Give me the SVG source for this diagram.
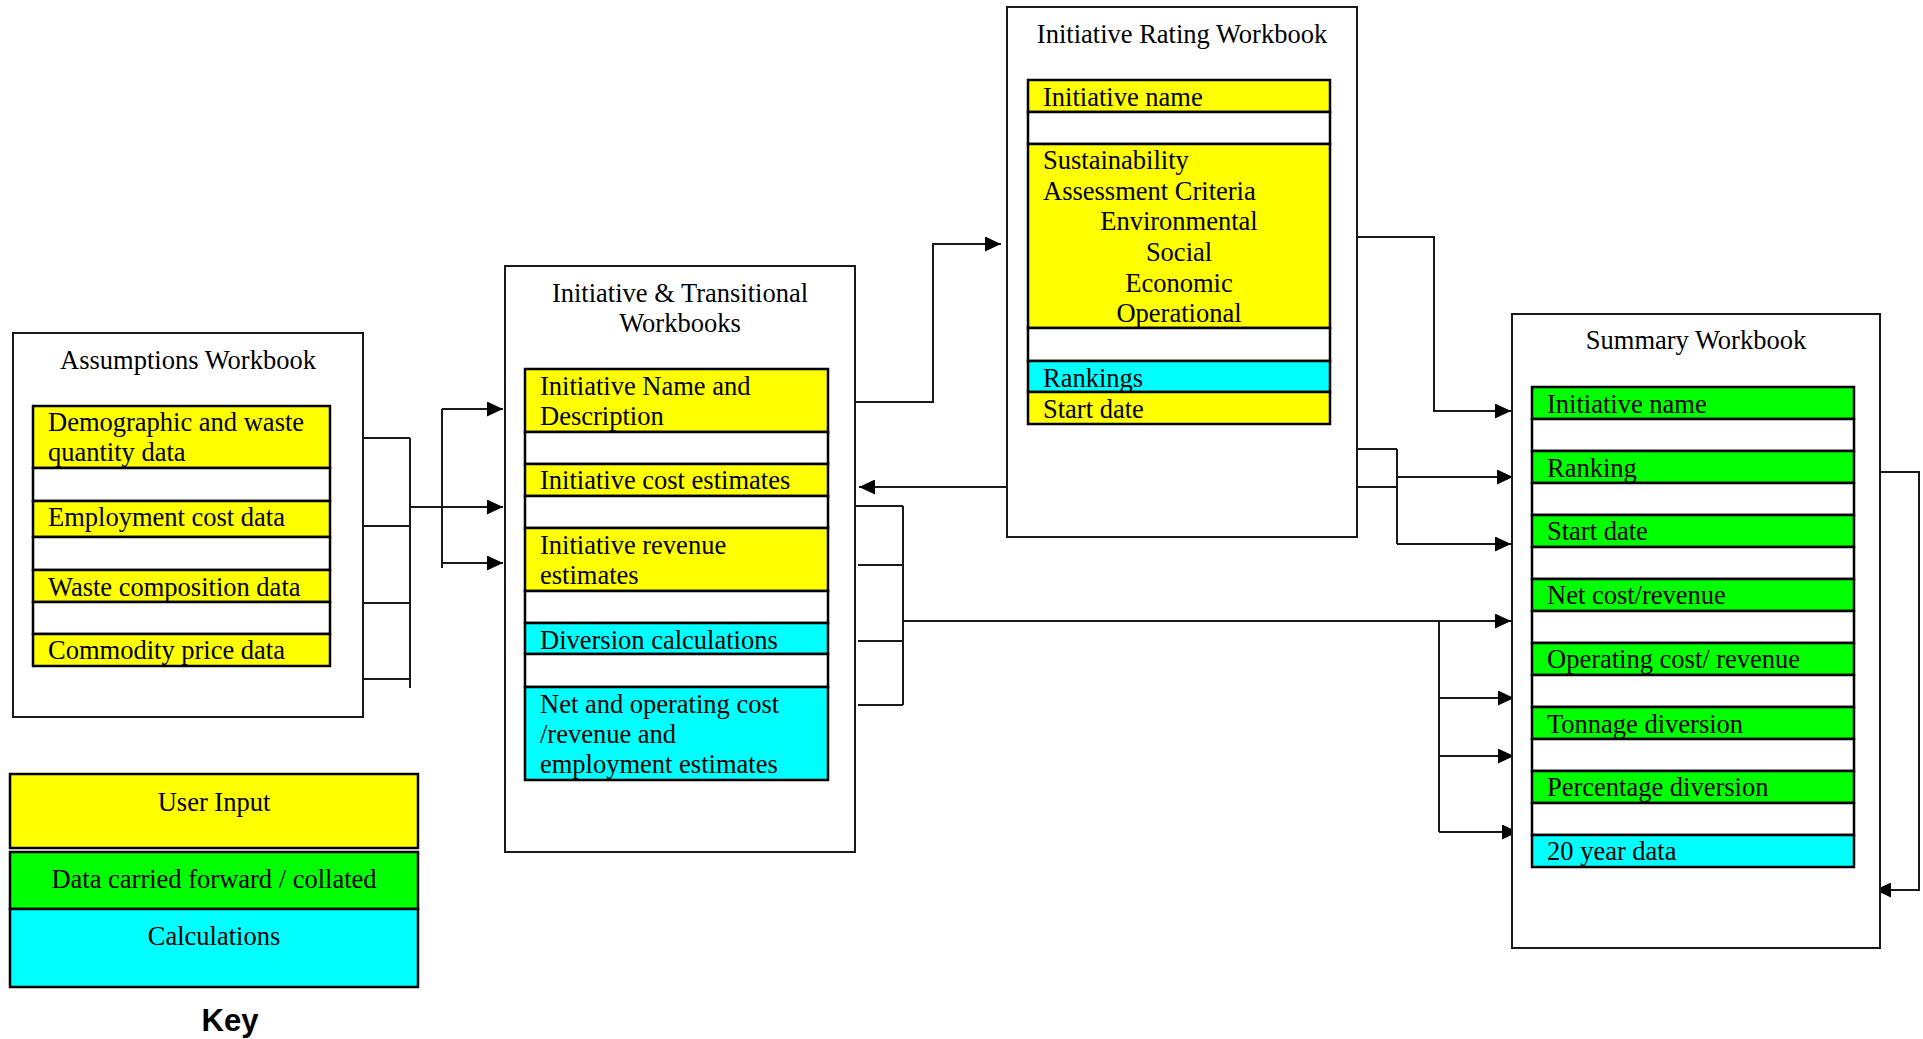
<svg xmlns="http://www.w3.org/2000/svg" width="1923" height="1039" viewBox="0 0 1923 1039">
<style>
.box{fill:#fff;stroke:#1a1a1a;stroke-width:2}
.y{fill:#ffff00;stroke:#000;stroke-width:2.5}
.g{fill:#00ff00;stroke:#000;stroke-width:2.5}
.c{fill:#00ffff;stroke:#000;stroke-width:2.5}
.w{fill:#fff;stroke:#000;stroke-width:2.5}
text{font-family:"Liberation Serif","Times New Roman",serif;font-size:26.5px;fill:#000}
.m{text-anchor:middle}
.key{font-family:"Liberation Sans",Arial,sans-serif;font-weight:bold;font-size:31px}
.ln{fill:none;stroke:#1a1a1a;stroke-width:2}
.ar{fill:none;stroke:#1a1a1a;stroke-width:2;marker-end:url(#ah)}
</style>
<defs>
<marker id="ah" markerUnits="userSpaceOnUse" markerWidth="16" markerHeight="15" refX="16" refY="7.5" orient="auto">
<path d="M0,0 L16,7.5 L0,15 z" fill="#000"/>
</marker>
</defs>
<rect width="1923" height="1039" fill="#fff"/>

<g id="connectors">
<path class="ln" d="M363,438 H410 M363,526 H410 M363,603 H410 M363,679 H410 M410,438 V688 M442,409 V568"/>
<path class="ar" d="M410,507 H503"/>
<path class="ar" d="M442,409 H503"/>
<path class="ar" d="M442,563 H503"/>
<path class="ar" d="M855,402 H933 V244 H1001"/>
<path class="ar" d="M1023,487 H859"/>
<path class="ln" d="M855,506 H903 M858,565 H903 M858,641 H903 M858,705 H903 M903,506 V705 M1439,621 V832"/>
<path class="ar" d="M903,621 H1511"/>
<path class="ar" d="M1439,698 H1514"/>
<path class="ar" d="M1439,756 H1514"/>
<path class="ar" d="M1439,832 H1518"/>
<path class="ar" d="M1357,237 H1434 V411 H1511"/>
<path class="ln" d="M1357,449 H1397 M1357,487 H1397 M1397,449 V544"/>
<path class="ar" d="M1397,477 H1513"/>
<path class="ar" d="M1397,544 H1511"/>
<path class="ar" d="M1880,472 H1919 V890 H1875"/>
</g>

<g id="assumptions">
<rect class="box" x="13" y="333" width="350" height="384"/>
<text class="m" x="188" y="369">Assumptions Workbook</text>
<rect class="y" x="33" y="406" width="297" height="62"/>
<rect class="w" x="33" y="468" width="297" height="33"/>
<rect class="y" x="33" y="501" width="297" height="36"/>
<rect class="w" x="33" y="537" width="297" height="33"/>
<rect class="y" x="33" y="570" width="297" height="32"/>
<rect class="w" x="33" y="602" width="297" height="32"/>
<rect class="y" x="33" y="634" width="297" height="32"/>
<text x="48" y="431">Demographic and waste</text>
<text x="48" y="461">quantity data</text>
<text x="48" y="526">Employment cost data</text>
<text x="48" y="596">Waste composition data</text>
<text x="48" y="659">Commodity price data</text>
</g>

<g id="initiative">
<rect class="box" x="505" y="266" width="350" height="586"/>
<text class="m" x="680" y="302">Initiative &amp; Transitional</text>
<text class="m" x="680" y="332">Workbooks</text>
<rect class="y" x="525" y="369" width="303" height="63"/>
<rect class="w" x="525" y="432" width="303" height="32"/>
<rect class="y" x="525" y="464" width="303" height="32"/>
<rect class="w" x="525" y="496" width="303" height="32"/>
<rect class="y" x="525" y="528" width="303" height="63"/>
<rect class="w" x="525" y="591" width="303" height="32"/>
<rect class="c" x="525" y="623" width="303" height="31"/>
<rect class="w" x="525" y="654" width="303" height="33"/>
<rect class="c" x="525" y="687" width="303" height="93"/>
<text x="540" y="395">Initiative Name and</text>
<text x="540" y="425">Description</text>
<text x="540" y="489">Initiative cost estimates</text>
<text x="540" y="554">Initiative revenue</text>
<text x="540" y="584">estimates</text>
<text x="540" y="649">Diversion calculations</text>
<text x="540" y="713">Net and operating cost</text>
<text x="540" y="743">/revenue and</text>
<text x="540" y="773">employment estimates</text>
</g>

<g id="rating">
<rect class="box" x="1007" y="7" width="350" height="530"/>
<text class="m" x="1182" y="43">Initiative Rating Workbook</text>
<rect class="y" x="1028" y="80" width="302" height="32"/>
<rect class="w" x="1028" y="112" width="302" height="32"/>
<rect class="y" x="1028" y="144" width="302" height="184"/>
<rect class="w" x="1028" y="328" width="302" height="33"/>
<rect class="c" x="1028" y="361" width="302" height="31"/>
<rect class="y" x="1028" y="392" width="302" height="32"/>
<text x="1043" y="106">Initiative name</text>
<text x="1043" y="169">Sustainability</text>
<text x="1043" y="200">Assessment Criteria</text>
<text class="m" x="1179" y="230">Environmental</text>
<text class="m" x="1179" y="261">Social</text>
<text class="m" x="1179" y="292">Economic</text>
<text class="m" x="1179" y="322">Operational</text>
<text x="1043" y="387">Rankings</text>
<text x="1043" y="418">Start date</text>
</g>

<g id="summary">
<rect class="box" x="1512" y="314" width="368" height="634"/>
<text class="m" x="1696" y="349">Summary Workbook</text>
<rect class="g" x="1532" y="387" width="322" height="32"/>
<rect class="w" x="1532" y="419" width="322" height="32"/>
<rect class="g" x="1532" y="451" width="322" height="32"/>
<rect class="w" x="1532" y="483" width="322" height="32"/>
<rect class="g" x="1532" y="515" width="322" height="32"/>
<rect class="w" x="1532" y="547" width="322" height="32"/>
<rect class="g" x="1532" y="579" width="322" height="32"/>
<rect class="w" x="1532" y="611" width="322" height="32"/>
<rect class="g" x="1532" y="643" width="322" height="32"/>
<rect class="w" x="1532" y="675" width="322" height="32"/>
<rect class="g" x="1532" y="707" width="322" height="32"/>
<rect class="w" x="1532" y="739" width="322" height="32"/>
<rect class="g" x="1532" y="771" width="322" height="32"/>
<rect class="w" x="1532" y="803" width="322" height="32"/>
<rect class="c" x="1532" y="835" width="322" height="32"/>
<text x="1547" y="413">Initiative name</text>
<text x="1547" y="477">Ranking</text>
<text x="1547" y="540">Start date</text>
<text x="1547" y="604">Net cost/revenue</text>
<text x="1547" y="668">Operating cost/ revenue</text>
<text x="1547" y="733">Tonnage diversion</text>
<text x="1547" y="796">Percentage diversion</text>
<text x="1547" y="860">20 year data</text>
</g>

<g id="key">
<rect class="y" x="10" y="774" width="408" height="74"/>
<rect class="g" x="10" y="852" width="408" height="57"/>
<rect class="c" x="10" y="909" width="408" height="78"/>
<text class="m" x="214" y="811">User Input</text>
<text class="m" x="214" y="888">Data carried forward / collated</text>
<text class="m" x="214" y="945">Calculations</text>
<text class="key m" x="230" y="1031">Key</text>
</g>
</svg>
